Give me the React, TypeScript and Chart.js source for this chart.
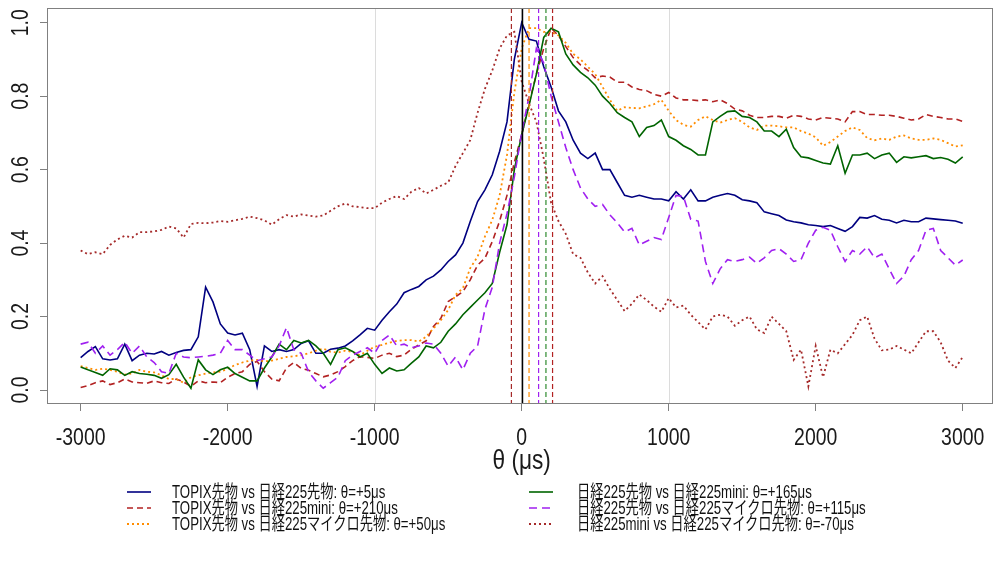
import React, { useEffect, useRef } from "react";
import { Chart, registerables } from "chart.js";

Chart.register(...registerables);

// Lag axis (μs)
const THETA = [
  -3000, -2950, -2900, -2850, -2800, -2750, -2700, -2650, -2600, -2550,
  -2500, -2450, -2400, -2350, -2300, -2250, -2200, -2150, -2100, -2050,
  -2000, -1950, -1900, -1850, -1800, -1750, -1700, -1650, -1600, -1550,
  -1500, -1450, -1400, -1350, -1300, -1250, -1200, -1150, -1100, -1050,
  -1000, -950, -900, -850, -800, -750, -700, -650, -600, -550,
  -500, -450, -400, -350, -300, -250, -200, -150, -100, -50,
  0, 50, 100, 150, 200, 250, 300, 350, 400, 450,
  500, 550, 600, 650, 700, 750, 800, 850, 900, 950,
  1000, 1050, 1100, 1150, 1200, 1250, 1300, 1350, 1400, 1450,
  1500, 1550, 1600, 1650, 1700, 1750, 1800, 1850, 1900, 1950,
  2000, 2050, 2100, 2150, 2200, 2250, 2300, 2350, 2400, 2450,
  2500, 2550, 2600, 2650, 2700, 2750, 2800, 2850, 2900, 2950,
  3000,
];

// Normalised cross-correlation for each pair
const TOPIX_N225 = [
  0.088, 0.105, 0.118, 0.085, 0.082, 0.085, 0.125, 0.08, 0.095, 0.1,
  0.098, 0.105, 0.095, 0.102, 0.108, 0.11, 0.145, 0.28, 0.24, 0.18,
  0.155, 0.15, 0.155, 0.11, 0.01, 0.12, 0.105, 0.11, 0.105, 0.11,
  0.127, 0.134, 0.1, 0.1, 0.111, 0.114, 0.12, 0.134, 0.15, 0.168,
  0.163, 0.19, 0.213, 0.234, 0.265, 0.274, 0.282, 0.3, 0.31, 0.327,
  0.35, 0.368, 0.4, 0.459, 0.513, 0.545, 0.586, 0.65, 0.73, 0.9,
  1.0, 0.955, 0.95, 0.88, 0.825, 0.76, 0.73, 0.68, 0.645, 0.63,
  0.645, 0.6, 0.6, 0.565, 0.53, 0.525, 0.53, 0.525, 0.52, 0.52,
  0.515, 0.54, 0.52, 0.545, 0.515, 0.515, 0.525, 0.53, 0.535, 0.53,
  0.518, 0.515, 0.51, 0.485, 0.48, 0.475, 0.463, 0.458, 0.455, 0.45,
  0.448, 0.445, 0.448, 0.44, 0.432, 0.445, 0.47, 0.468, 0.475, 0.465,
  0.462, 0.455, 0.462, 0.458, 0.458, 0.468, 0.466, 0.464, 0.462, 0.46,
  0.454,
];

const TOPIX_MINI = [
  0.007, 0.012, 0.02, 0.025, 0.015, 0.02, 0.03, 0.022, 0.02, 0.018,
  0.025, 0.02, 0.018, 0.03, 0.022, 0.01, 0.025, 0.02, 0.022, 0.02,
  0.035, 0.045, 0.05, 0.07, 0.078, 0.05, 0.03, 0.025, 0.06, 0.075,
  0.059, 0.054, 0.045, 0.036, 0.041, 0.05, 0.064, 0.08, 0.091, 0.089,
  0.086, 0.095, 0.1, 0.091, 0.095, 0.111, 0.123, 0.134, 0.173, 0.195,
  0.241, 0.254, 0.268, 0.3, 0.34, 0.359, 0.404, 0.46, 0.53, 0.62,
  0.695, 0.78, 0.86, 0.93, 0.985, 0.965, 0.935, 0.905, 0.885, 0.87,
  0.85, 0.855, 0.852, 0.838, 0.838, 0.825, 0.818, 0.815, 0.805, 0.8,
  0.81, 0.795, 0.79, 0.79, 0.788, 0.79, 0.785, 0.79, 0.78, 0.765,
  0.76, 0.748, 0.742, 0.742, 0.745, 0.745, 0.74, 0.748, 0.745, 0.738,
  0.735, 0.742, 0.74, 0.738, 0.73, 0.758, 0.758, 0.75, 0.75, 0.748,
  0.748, 0.745, 0.74, 0.735, 0.738, 0.75, 0.745, 0.742, 0.738, 0.738,
  0.731,
];

const TOPIX_MICRO = [
  0.065, 0.06, 0.055, 0.058, 0.055, 0.05, 0.042, 0.045, 0.055, 0.05,
  0.048, 0.04, 0.03, 0.03, 0.02, 0.035, 0.04, 0.045, 0.048, 0.05,
  0.058, 0.068, 0.075, 0.08, 0.082, 0.078, 0.08, 0.085, 0.09, 0.092,
  0.095, 0.1, 0.107, 0.113, 0.104, 0.102, 0.107, 0.104, 0.095, 0.107,
  0.118, 0.123, 0.129, 0.134, 0.136, 0.136, 0.132, 0.145, 0.168, 0.19,
  0.218, 0.259, 0.277, 0.332, 0.363, 0.418, 0.463, 0.53, 0.64, 0.81,
  0.93, 0.985, 0.985, 0.975, 0.975, 0.965, 0.945, 0.915, 0.9, 0.88,
  0.86, 0.825, 0.79, 0.76, 0.77, 0.768, 0.767, 0.772, 0.778, 0.79,
  0.76, 0.735, 0.722, 0.717, 0.735, 0.745, 0.735, 0.728, 0.735, 0.74,
  0.73, 0.715, 0.708, 0.72, 0.72, 0.718, 0.715, 0.715, 0.705, 0.698,
  0.688, 0.665, 0.675, 0.69, 0.705, 0.715, 0.708, 0.686, 0.68, 0.685,
  0.681, 0.69, 0.693, 0.685, 0.681, 0.681, 0.685, 0.681, 0.672, 0.663,
  0.666,
];

const N225_MINI = [
  0.063, 0.055, 0.048, 0.04, 0.058, 0.055, 0.04, 0.05, 0.045, 0.043,
  0.04, 0.032, 0.042, 0.07, 0.035, 0.005, 0.082, 0.055, 0.042, 0.055,
  0.062, 0.045, 0.035, 0.025, 0.025, 0.06, 0.09, 0.125, 0.11, 0.135,
  0.128, 0.135, 0.12, 0.1, 0.07, 0.11, 0.115, 0.105, 0.09, 0.1,
  0.07, 0.045, 0.06, 0.052, 0.055, 0.073, 0.09, 0.12, 0.115, 0.13,
  0.16, 0.18, 0.205, 0.225, 0.245, 0.265, 0.29, 0.375, 0.45, 0.6,
  0.695, 0.775, 0.86, 0.96, 0.985, 0.975, 0.915, 0.885, 0.865, 0.85,
  0.83, 0.8, 0.78, 0.755, 0.742, 0.73, 0.69, 0.715, 0.72, 0.735,
  0.69, 0.68, 0.665, 0.655, 0.64, 0.64, 0.73, 0.745, 0.758, 0.76,
  0.745, 0.742, 0.73, 0.705, 0.705, 0.69, 0.71, 0.66, 0.635, 0.632,
  0.625, 0.618, 0.615, 0.665, 0.59, 0.64, 0.64, 0.645, 0.63, 0.64,
  0.645, 0.62, 0.635, 0.632, 0.635, 0.638, 0.63, 0.633, 0.628, 0.618,
  0.635,
];

const N225_MICRO = [
  0.125, 0.13, 0.1, 0.12, 0.095, 0.11, 0.13, 0.1, 0.12, 0.09,
  0.075, 0.05, 0.045, 0.1, 0.09, 0.088, 0.09, 0.092, 0.095, 0.1,
  0.135, 0.11, 0.11, 0.095, 0.08, 0.085, 0.09, 0.12, 0.17, 0.11,
  0.1, 0.05, 0.025, 0.005, 0.02, 0.035, 0.08, 0.095, 0.105, 0.115,
  0.1, 0.135, 0.15, 0.12, 0.125, 0.115, 0.12, 0.128, 0.125, 0.1,
  0.065, 0.09, 0.055, 0.1, 0.12, 0.22, 0.28, 0.4, 0.48, 0.58,
  0.7, 0.8, 0.93, 0.89, 0.8, 0.73, 0.66, 0.6, 0.55, 0.52,
  0.5, 0.505, 0.477, 0.455, 0.43, 0.44, 0.395, 0.405, 0.415, 0.41,
  0.47, 0.53, 0.527, 0.465, 0.46, 0.35, 0.29, 0.33, 0.355, 0.35,
  0.355, 0.362, 0.345, 0.36, 0.38, 0.385, 0.37, 0.35, 0.355, 0.4,
  0.435, 0.443, 0.435, 0.39, 0.35, 0.38, 0.37, 0.39, 0.36, 0.37,
  0.33, 0.29, 0.31, 0.355, 0.38, 0.435, 0.44, 0.38, 0.36, 0.34,
  0.354,
];

const MINI_MICRO = [
  0.38, 0.37, 0.375, 0.37, 0.395, 0.41, 0.42, 0.415, 0.43, 0.43,
  0.432, 0.436, 0.445, 0.44, 0.415, 0.452, 0.455, 0.454, 0.456, 0.46,
  0.458, 0.462, 0.466, 0.472, 0.468, 0.462, 0.45, 0.465, 0.476, 0.472,
  0.478, 0.475, 0.472, 0.475, 0.488, 0.5, 0.508, 0.5, 0.498, 0.495,
  0.495, 0.51, 0.52, 0.528, 0.52, 0.54, 0.55, 0.535, 0.545, 0.556,
  0.565, 0.61, 0.645, 0.68, 0.755, 0.82, 0.87, 0.93, 0.965, 0.975,
  0.84, 0.78, 0.73, 0.63, 0.51, 0.46, 0.425, 0.37, 0.36, 0.32,
  0.29, 0.31, 0.275, 0.245, 0.215, 0.235, 0.26, 0.245, 0.227, 0.213,
  0.25, 0.225, 0.23, 0.205, 0.185, 0.165, 0.2, 0.205, 0.2, 0.175,
  0.19, 0.2, 0.165, 0.155, 0.2, 0.18, 0.16, 0.082, 0.11, 0.01,
  0.12, 0.035, 0.11, 0.1, 0.125, 0.15, 0.19, 0.2, 0.14, 0.108,
  0.11, 0.12, 0.11, 0.1, 0.13, 0.16, 0.16, 0.13, 0.08, 0.06,
  0.09,
];

const SERIES_LABELS = [
  "TOPIX先物 vs 日経225先物: θ=+5μs",
  "TOPIX先物 vs 日経225mini: θ=+210μs",
  "TOPIX先物 vs 日経225マイクロ先物: θ=+50μs",
  "日経225先物 vs 日経225mini: θ=+165μs",
  "日経225先物 vs 日経225マイクロ先物: θ=+115μs",
  "日経225mini vs 日経225マイクロ先物: θ=-70μs",
];

// Estimated lead-lag for each pair (μs)
const LAG_US = [5, 210, 50, 165, 115, -70];

const X_TICKS = [-3000, -2000, -1000, 0, 1000, 2000, 3000];
const X_TICK_LABELS = ["-3000", "-2000", "-1000", "0", "1000", "2000", "3000"];
const Y_TICKS = [0, 0.2, 0.4, 0.6, 0.8, 1.0];
const Y_TICK_LABELS = ["0.0", "0.2", "0.4", "0.6", "0.8", "1.0"];
const GRID_X = [-1000, 1000];
const X_TITLE = "θ (μs)";

const SERIES_VALUES = [TOPIX_N225, TOPIX_MINI, TOPIX_MICRO, N225_MINI, N225_MICRO, MINI_MICRO];

const FONT = "'Liberation Sans', Arial, 'Noto Sans CJK JP', sans-serif";
// horizontal squeeze giving the narrow Helvetica look
const SQUEEZE = 0.81;

const STYLES = [
  { color: "#000080", dash: [] as number[], width: 1.6 },
  { color: "#B22222", dash: [6, 4], width: 1.6 },
  { color: "#FF8C00", dash: [2, 3], width: 1.8 },
  { color: "#006400", dash: [] as number[], width: 1.6 },
  { color: "#A020F0", dash: [8, 5], width: 1.6 },
  { color: "#A52A2A", dash: [2, 3], width: 1.8 },
];

const LAG_COLORS = ["#000000", "#B22222", "#FF8C00", "#2E8B2E", "#A020F0", "#A52A2A"];

function squeezedText(ctx: any, text: string, x: number, y: number, angle: number) {
  ctx.save();
  ctx.translate(x, y);
  ctx.rotate(angle);
  ctx.scale(SQUEEZE, 1);
  ctx.fillText(text, 0, 0);
  ctx.restore();
}

const decorations = {
  id: "decorations",
  beforeDatasetsDraw(chart: any) {
    const { ctx, chartArea: a, scales } = chart;
    ctx.save();
    ctx.strokeStyle = "#dcdcdc";
    ctx.lineWidth = 1;
    GRID_X.forEach((v) => {
      const px = Math.round(scales.x.getPixelForValue(v)) + 0.5;
      ctx.beginPath();
      ctx.moveTo(px, a.top);
      ctx.lineTo(px, a.bottom);
      ctx.stroke();
    });
    ctx.restore();
  },
  afterDatasetsDraw(chart: any) {
    const { ctx, chartArea: a, scales } = chart;
    ctx.save();
    LAG_US.forEach((v, i) => {
      const px = scales.x.getPixelForValue(v);
      ctx.beginPath();
      ctx.strokeStyle = LAG_COLORS[i];
      ctx.lineWidth = i === 0 ? 1.6 : 1.2;
      ctx.setLineDash(i === 0 ? [] : [5, 3]);
      ctx.moveTo(px, a.top);
      ctx.lineTo(px, a.bottom);
      ctx.stroke();
    });
    ctx.setLineDash([]);
    ctx.strokeStyle = "#808080";
    ctx.lineWidth = 1;
    ctx.strokeRect(a.left + 0.5, a.top + 0.5, a.width - 1, a.height - 1);

    ctx.fillStyle = "#1a1a1a";
    ctx.textAlign = "center";
    ctx.textBaseline = "middle";
    ctx.font = `24px ${FONT}`;
    // y tick labels, written upwards
    Y_TICKS.forEach((v, i) => {
      squeezedText(ctx, Y_TICK_LABELS[i], 21, scales.y.getPixelForValue(v), -Math.PI / 2);
    });
    // x tick labels
    X_TICKS.forEach((v, i) => {
      squeezedText(ctx, X_TICK_LABELS[i], scales.x.getPixelForValue(v), a.bottom + 34, 0);
    });
    // x axis title
    ctx.font = `28px ${FONT}`;
    squeezedText(ctx, X_TITLE, scales.x.getPixelForValue(0), a.bottom + 57, 0);
    ctx.restore();
  },
};

function LegendSample({ color, dash, width }: { color: string; dash: number[]; width: number }) {
  return (
    <svg width={24} height={6} style={{ display: "block" }}>
      <line
        x1={0}
        y1={3}
        x2={24}
        y2={3}
        stroke={color}
        strokeWidth={width}
        strokeDasharray={dash.length ? dash.join(" ") : undefined}
      />
    </svg>
  );
}

export default function App() {
  const canvasRef = useRef<HTMLCanvasElement | null>(null);

  useEffect(() => {
    const canvas = canvasRef.current;
    if (!canvas) return;
    const datasets = SERIES_VALUES.map((vals, i) => ({
      label: SERIES_LABELS[i],
      data: THETA.map((t, k) => ({ x: t, y: vals[k] })),
      borderColor: STYLES[i].color,
      borderDash: STYLES[i].dash,
      borderWidth: STYLES[i].width,
      pointRadius: 0,
      tension: 0,
      fill: false,
      order: 6 - i,
    }));

    const chart = new Chart(canvas, {
      type: "line",
      data: { datasets },
      plugins: [decorations],
      options: {
        animation: false,
        responsive: false,
        events: [],
        layout: { padding: { top: 8, right: 2, left: 0, bottom: 0 } },
        plugins: { legend: { display: false }, tooltip: { enabled: false } },
        scales: {
          x: {
            type: "linear",
            min: -3229,
            max: 3206,
            afterFit: (s: any) => {
              s.height = 158;
            },
            afterBuildTicks: (s: any) => {
              s.ticks = X_TICKS.map((v) => ({ value: v }));
            },
            grid: { drawOnChartArea: false, drawTicks: true, tickLength: 7, tickColor: "#808080" },
            border: { display: false },
            ticks: { display: false },
          },
          y: {
            type: "linear",
            min: -0.038,
            max: 1.04,
            afterFit: (s: any) => {
              s.width = 47;
            },
            afterBuildTicks: (s: any) => {
              s.ticks = Y_TICKS.map((v) => ({ value: v }));
            },
            grid: { drawOnChartArea: false, drawTicks: true, tickLength: 7, tickColor: "#808080" },
            border: { display: false },
            ticks: { display: false },
          },
        },
      },
    });
    return () => chart.destroy();
  }, []);

  const cols = [
    { sx: 127, tx: 172 },
    { sx: 529, tx: 577 },
  ];
  const rows = [492, 508, 524];

  return (
    <div style={{ position: "absolute", left: 0, top: 0, width: 995, height: 562, background: "#ffffff", overflow: "hidden" }}>
      <canvas ref={canvasRef} width={995} height={562} style={{ position: "absolute", left: 0, top: 0 }} />
      {SERIES_LABELS.map((label, i) => {
        const c = cols[Math.floor(i / 3)];
        const cy = rows[i % 3];
        return (
          <React.Fragment key={label}>
            <div style={{ position: "absolute", left: c.sx, top: cy - 3 }}>
              <LegendSample {...STYLES[i]} />
            </div>
            <div
              style={{
                position: "absolute",
                left: c.tx,
                top: cy - 10,
                height: 20,
                lineHeight: "20px",
                fontFamily: FONT,
                fontSize: 18,
                color: "#111111",
                whiteSpace: "nowrap",
                transform: "scaleX(0.735)",
                transformOrigin: "left center",
              }}
            >
              {label}
            </div>
          </React.Fragment>
        );
      })}
    </div>
  );
}
